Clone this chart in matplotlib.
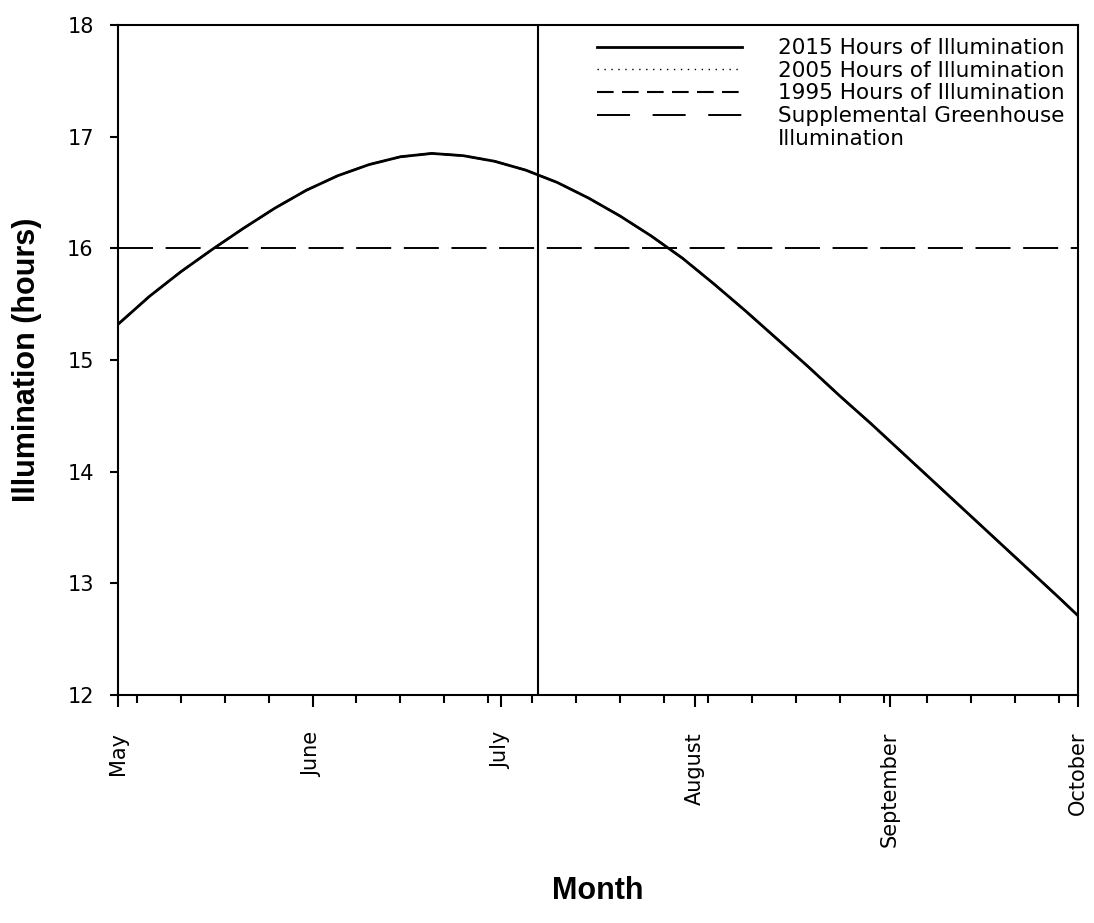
import matplotlib
matplotlib.use("Agg")
import matplotlib.pyplot as plt
from matplotlib.lines import Line2D
from matplotlib.ticker import FixedLocator

plt.rcParams['font.family'] = ['DejaVu Sans']

# days counted from 1 May
days = [0, 5, 10, 15, 20, 25, 30, 35, 40, 45, 50, 55, 60, 65, 70, 75,
        80, 85, 90, 95, 100, 105, 110, 115, 120, 125, 130, 135, 140, 145,
        150, 153]

# hours of daylight (the three years lie on top of each other)
hours_2015 = [15.32, 15.57, 15.79, 15.99, 16.18, 16.36, 16.52, 16.65, 16.75,
              16.82, 16.85, 16.83, 16.78, 16.70, 16.59, 16.45, 16.29, 16.11,
              15.91, 15.68, 15.44, 15.19, 14.94, 14.68, 14.43, 14.17, 13.91,
              13.65, 13.39, 13.13, 12.87, 12.71]
hours_2005 = [15.32, 15.57, 15.79, 15.99, 16.18, 16.36, 16.52, 16.65, 16.75,
              16.82, 16.85, 16.83, 16.78, 16.70, 16.59, 16.45, 16.29, 16.11,
              15.91, 15.68, 15.44, 15.19, 14.94, 14.68, 14.43, 14.17, 13.91,
              13.65, 13.39, 13.13, 12.87, 12.71]
hours_1995 = [15.32, 15.57, 15.79, 15.99, 16.18, 16.36, 16.52, 16.65, 16.75,
              16.82, 16.85, 16.83, 16.78, 16.70, 16.59, 16.45, 16.29, 16.11,
              15.91, 15.68, 15.44, 15.19, 14.94, 14.68, 14.43, 14.17, 13.91,
              13.65, 13.39, 13.13, 12.87, 12.71]

supplemental = 16
marker_day = 67

month_days = [0, 31, 61, 92, 123, 153]
month_names = ['May', 'June', 'July', 'August', 'September', 'October']
week_days = list(range(3, 153, 7))

fig = plt.figure(figsize=(10.94, 9.23), dpi=100)
ax = fig.add_axes([0.1079, 0.247, 0.8775, 0.7259])

l1995, = ax.plot(days, hours_1995, color='black', lw=1.5, dashes=(8, 4))
l2005, = ax.plot(days, hours_2005, color='black', lw=1.0, dashes=(1, 4))
l2015, = ax.plot(days, hours_2015, color='black', lw=2.0)
ax.axhline(supplemental, color='black', lw=1.4, dashes=(18, 6.5))
ax.axvline(marker_day, color='black', lw=1.5)

ax.set_xlim(0, 153)
ax.set_ylim(12, 18)

ax.set_xticks(month_days)
ax.set_xticklabels(month_names, rotation=90, va='top', ha='center')
ax.xaxis.set_minor_locator(FixedLocator(week_days))
ax.set_yticks(range(12, 19))

ax.tick_params(axis='x', which='major', direction='out', length=8.6,
               width=1.5, labelsize=15, pad=18)
ax.tick_params(axis='x', which='minor', direction='out', length=5.8, width=1.5)
ax.tick_params(axis='y', which='major', direction='out', length=6,
               width=1.5, labelsize=15, pad=11.5)
for s in ax.spines.values():
    s.set_linewidth(1.5)

ax.set_xlabel('Month', fontsize=22, fontweight='bold',
              family='Liberation Sans')
ax.set_ylabel('Illumination (hours)', fontsize=22, fontweight='bold',
              family='Liberation Sans')
ax.xaxis.set_label_coords(0.5, -0.270)
ax.yaxis.set_label_coords(-0.0792, 0.5)

# legend key for the greenhouse line: three long dashes
sup_key = Line2D([], [], color='black', lw=1.4, dashes=(17, 11.6))
blank = Line2D([], [], linestyle='none')
ax.legend([l2015, l2005, l1995, sup_key, blank],
          ['2015 Hours of Illumination', '2005 Hours of Illumination',
           '1995 Hours of Illumination', 'Supplemental Greenhouse',
           'Illumination'],
          loc='upper left', bbox_to_anchor=(0.4903, 0.993), borderaxespad=0,
          frameon=False, fontsize=15.5, handlelength=6.74, handletextpad=1.63,
          labelspacing=0.12)

fig.savefig('out.png', dpi=100)
